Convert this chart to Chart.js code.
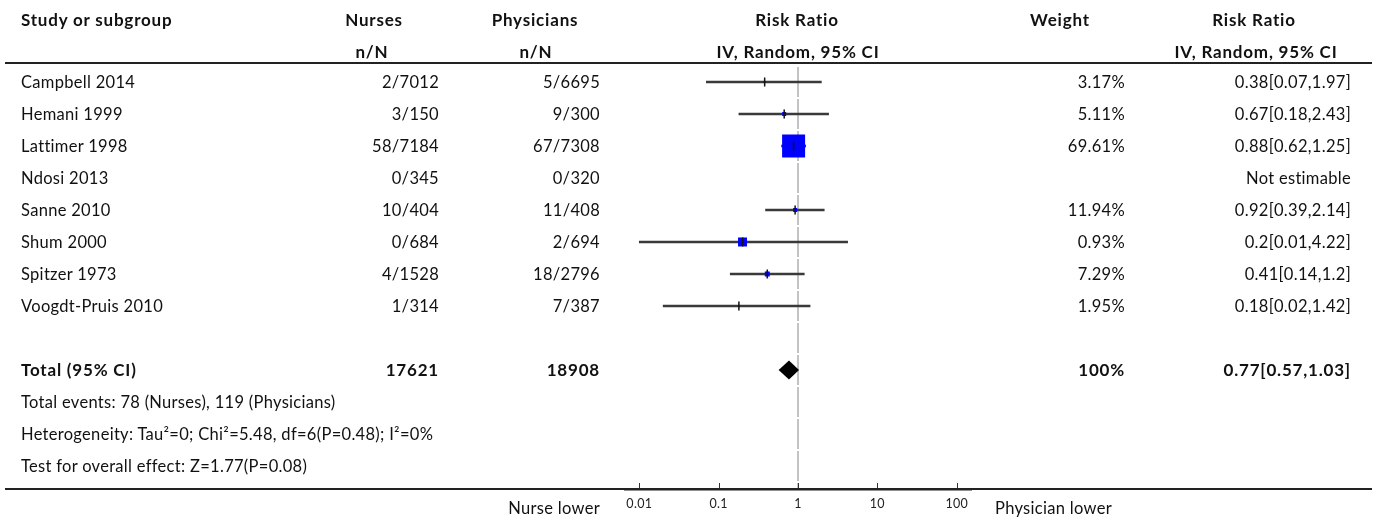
<!DOCTYPE html>
<html>
<head>
<meta charset="utf-8">
<title>Forest plot</title>
<script src="https://cdn.jsdelivr.net/npm/chart.js@4.4.0/dist/chart.umd.min.js"></script>
<style>
  body { margin: 0; background: #fff; }
  #wrap { position: relative; width: 1375px; height: 520px; font-family: Lato, "Noto Sans", sans-serif; font-size: 16.5px; letter-spacing: 0.3px; color: #111; }
  #wrap canvas { position: absolute; left: 0; top: 0; }
  .t { position: absolute; height: 20px; line-height: 20px; white-space: nowrap; }
  .b { font-weight: bold; font-size: 17px; letter-spacing: 0.8px; }
  .rule { position: absolute; left: 5px; width: 1367px; height: 2px; background: #222; }
</style>
</head>
<body>
<div id="wrap">
  <canvas id="forest" width="1375" height="520"></canvas>
</div>
<script>
// study data
const studies = ['Campbell 2014', 'Hemani 1999', 'Lattimer 1998', 'Ndosi 2013', 'Sanne 2010', 'Shum 2000', 'Spitzer 1973', 'Voogdt-Pruis 2010'];
const nurseEvents = [2, 3, 58, 0, 10, 0, 4, 1];
const nurseTotal = [7012, 150, 7184, 345, 404, 684, 1528, 314];
const physEvents = [5, 9, 67, 0, 11, 2, 18, 7];
const physTotal = [6695, 300, 7308, 320, 408, 694, 2796, 387];
const weight = [3.17, 5.11, 69.61, null, 11.94, 0.93, 7.29, 1.95];
const riskRatio = [0.38, 0.67, 0.88, null, 0.92, 0.2, 0.41, 0.18];
const ciLow = [0.07, 0.18, 0.62, null, 0.39, 0.01, 0.14, 0.02];
const ciHigh = [1.97, 2.43, 1.25, null, 2.14, 4.22, 1.2, 1.42];

// pooled result
const nurseSum = 17621;
const physSum = 18908;
const totalWeight = 100;
const totalRR = 0.77;
const totalLow = 0.57;
const totalHigh = 1.03;

const notes = [
    'Total events: 78 (Nurses), 119 (Physicians)',
    'Heterogeneity: Tau\u00b2=0; Chi\u00b2=5.48, df=6(P=0.48); I\u00b2=0%',
    'Test for overall effect: Z=1.77(P=0.08)'
];
const axisTicks = [0.01, 0.1, 1, 10, 100];

// ---- text table ----
const W = 1375;
const wrap = document.getElementById('wrap');
function put(text, x, y, align, bold) {
    const d = document.createElement('div');
    d.className = 't' + (bold ? ' b' : '');
    d.textContent = text;
    d.style.top = (y - 10) + 'px';
    if (align === 'right') {
        d.style.right = (W - x) + 'px';
        d.style.textAlign = 'right';
    } else if (align === 'center') {
        d.style.left = (x - 150) + 'px';
        d.style.width = '300px';
        d.style.textAlign = 'center';
    } else {
        d.style.left = x + 'px';
    }
    wrap.appendChild(d);
}
function rule(y) {
    const d = document.createElement('div');
    d.className = 'rule';
    d.style.top = y + 'px';
    wrap.appendChild(d);
}

const rowY = (i) => 82 + 32 * i;
const colStudy = 21, colNurse = 439, colPhys = 600, colWeight = 1125, colRR = 1351;

put('Study or subgroup', colStudy, 20, 'left', true);
put('Nurses', 374, 20, 'center', true);
put('n/N', 372, 52, 'center', true);
put('Physicians', 535, 20, 'center', true);
put('n/N', 536, 52, 'center', true);
put('Risk Ratio', 797, 20, 'center', true);
put('IV, Random, 95% CI', 798, 52, 'center', true);
put('Weight', 1060, 20, 'center', true);
put('Risk Ratio', 1254, 20, 'center', true);
put('IV, Random, 95% CI', 1256, 52, 'center', true);
rule(62);

studies.forEach((s, i) => {
    const y = rowY(i);
    put(s, colStudy, y, 'left');
    put(nurseEvents[i] + '/' + nurseTotal[i], colNurse, y, 'right');
    put(physEvents[i] + '/' + physTotal[i], colPhys, y, 'right');
    if (weight[i] != null) put(weight[i].toFixed(2) + '%', colWeight, y, 'right');
    if (riskRatio[i] != null) {
        put(riskRatio[i] + '[' + ciLow[i] + ',' + ciHigh[i] + ']', colRR, y, 'right');
    } else {
        put('Not estimable', colRR, y, 'right');
    }
});

const totalRow = studies.length + 1;
put('Total (95% CI)', colStudy, rowY(totalRow), 'left', true);
put(String(nurseSum), colNurse, rowY(totalRow), 'right', true);
put(String(physSum), colPhys, rowY(totalRow), 'right', true);
put(totalWeight + '%', colWeight, rowY(totalRow), 'right', true);
put(totalRR + '[' + totalLow + ',' + totalHigh + ']', colRR, rowY(totalRow), 'right', true);
notes.forEach((n, k) => put(n, colStudy, rowY(totalRow + 1 + k), 'left'));
rule(488);
put('Nurse lower', 600, 508, 'right');
put('Physician lower', 995, 508, 'left');

// ---- plot ----
const yTop = -0.5;
const yBottom = 12.72;
const shown = studies.map((s, i) => i).filter(i => riskRatio[i] != null);
const boxSide = [2, 4, 23, 0, 4, 9, 5, 1.5];

const forestExtras = {
    id: 'forestExtras',
    afterDraw(chart) {
        const {ctx} = chart;
        const x = chart.scales.x, y = chart.scales.y;
        // pooled diamond
        const yc = y.getPixelForValue(totalRow);
        ctx.save();
        ctx.beginPath();
        ctx.moveTo(x.getPixelForValue(totalLow), yc);
        ctx.lineTo(x.getPixelForValue(totalRR), yc - 9.5);
        ctx.lineTo(x.getPixelForValue(totalHigh), yc);
        ctx.lineTo(x.getPixelForValue(totalRR), yc + 9.5);
        ctx.closePath();
        ctx.fillStyle = '#000';
        ctx.fill();
        // axis tick marks point up
        ctx.strokeStyle = '#333';
        ctx.lineWidth = 1;
        axisTicks.forEach(v => {
            const px = Math.round(x.getPixelForValue(v)) + 0.5;
            ctx.beginPath();
            ctx.moveTo(px, x.top);
            ctx.lineTo(px, x.top - 6);
            ctx.stroke();
        });
        ctx.restore();
    }
};

new Chart(document.getElementById('forest'), {
    type: 'scatter',
    data: {
        datasets: [
            {
                // line of no effect
                data: [{x: 1, y: yTop}, {x: 1, y: yBottom}],
                showLine: true,
                borderColor: '#b0b0b0',
                borderWidth: 1.5,
                borderDash: [30, 2],
                borderDashOffset: 31,
                pointRadius: 0,
                order: 10
            },
            {
                type: 'bar',
                indexAxis: 'y',
                data: shown.map(i => ({x: [ciLow[i], ciHigh[i]], y: i})),
                backgroundColor: '#3a3a3a',
                barThickness: 2,
                order: 5
            },
            {
                data: shown.map(i => ({x: riskRatio[i], y: i})),
                pointStyle: 'rect',
                pointRadius: shown.map(i => boxSide[i] / Math.SQRT2),
                backgroundColor: '#0000ff',
                borderWidth: 0,
                order: 3
            },
            {
                data: shown.map(i => ({x: riskRatio[i], y: i})),
                pointStyle: 'line',
                rotation: 90,
                pointRadius: 4.5,
                borderColor: '#111',
                borderWidth: 1.5,
                order: 1
            }
        ]
    },
    options: {
        responsive: false,
        animation: false,
        devicePixelRatio: 1,
        layout: {padding: {left: 625, right: 404, top: 66, bottom: 0}},
        plugins: {legend: {display: false}, tooltip: {enabled: false}},
        scales: {
            x: {
                type: 'logarithmic',
                min: Math.pow(10, -2.18),
                max: Math.pow(10, 2.18),
                bounds: 'data',
                offset: false,
                grid: {display: false, drawTicks: false},
                border: {display: true, color: '#222', width: 2.5},
                afterBuildTicks: (scale) => { scale.ticks = axisTicks.map(v => ({value: v})); },
                afterFit: (scale) => { scale.height = 31; },
                ticks: {
                    autoSkip: false,
                    maxRotation: 0,
                    padding: 7,
                    color: '#222',
                    font: {family: 'Lato', size: 12.5},
                    callback: (v) => String(v)
                }
            },
            y: {
                type: 'linear',
                reverse: true,
                min: yTop,
                max: yBottom,
                offset: false,
                display: false
            }
        }
    },
    plugins: [forestExtras]
});
</script>
</body>
</html>
